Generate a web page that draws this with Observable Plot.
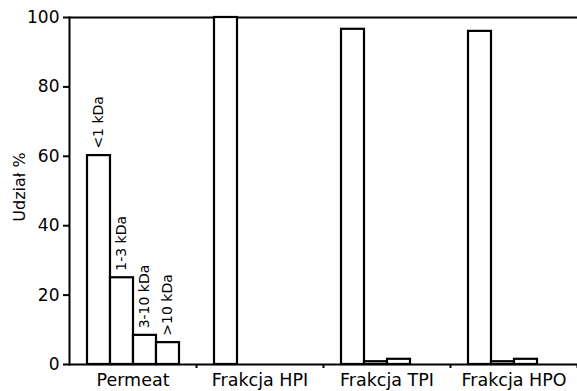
<!DOCTYPE html>
<html>
<head>
<meta charset="utf-8">
<script src="https://cdn.jsdelivr.net/npm/d3@7"></script>
<script src="https://cdn.jsdelivr.net/npm/@observablehq/plot@0.6"></script>
<style>
  html, body { margin: 0; padding: 0; background: #fff; }
  #chart svg { display: block; }
  #chart svg g[aria-label="y-axis tick label"] { font-size: 17px; }
</style>
</head>
<body>
<div id="chart"></div>
<script>
// Data
const groups = ["Permeat", "Frakcja HPI", "Frakcja TPI", "Frakcja HPO"];
const sizes = ["<1 kDa", "1-3 kDa", "3-10 kDa", ">10 kDa"];
const below1 = [60.2, 100, 96.6, 96.0];
const from1to3 = [25.0, 0, 0.8, 0.8];
const from3to10 = [8.4, 0, 1.5, 1.5];
const above10 = [6.3, 0, 0, 0];
const yTicks = [0, 20, 40, 60, 80, 100];
const labelledGroup = "Permeat";

const series = [below1, from1to3, from3to10, above10];
const data = [];
groups.forEach((g, gi) => {
  sizes.forEach((s, si) => {
    data.push({group: g, size: s, value: series[si][gi]});
  });
});
const labelData = data.filter(d => d.group === labelledGroup);

const W = 577, H = 391, ML = 69, MR = 0;
const facetHalf = (W - ML - MR) / groups.length / 2;
const font = "'DejaVu Sans', sans-serif";

const chart = Plot.plot({
  width: W,
  height: H,
  marginLeft: ML,
  marginRight: MR,
  marginTop: 17,
  marginBottom: 27,
  style: {fontFamily: font, fontSize: "17px", color: "#000", background: "#fff"},
  fx: {domain: groups, padding: 0, label: null},
  x: {domain: sizes, paddingInner: 0, paddingOuter: 0.65, axis: null},
  y: {domain: [0, 100], axis: null},
  marks: [
    Plot.ruleY([0, 100], {stroke: "#000", strokeWidth: 2}),
    Plot.frame({anchor: "left", facetAnchor: "left", stroke: "#000", strokeWidth: 2}),
    Plot.barY(data, {fx: "group", x: "size", y: "value", fill: "#fff", stroke: "#000", strokeWidth: 2.2}),
    Plot.text(labelData, {
      fx: "group", x: "size", y: "value", text: "size",
      rotate: -90, textAnchor: "start", lineAnchor: "middle",
      dy: -7, fontSize: 14, fill: "#000"
    }),
    Plot.axisY({
      ticks: yTicks, tickSize: 6, tickPadding: 4, fontSize: 17, strokeWidth: 2,
      label: null
    }),
    Plot.text(["Udział %"], {
      facetAnchor: "left", frameAnchor: "left", rotate: -90,
      text: d => d, dx: -50, dy: -4, fontSize: 16, lineAnchor: "middle", textAnchor: "middle", fill: "#000"
    }),
    Plot.axisFx({anchor: "bottom", tickSize: 0, tickPadding: 9, label: null, fontSize: 17.5}),
    Plot.axisFx({anchor: "bottom", tickSize: 4, tickFormat: () => "", label: null, dx: facetHalf, strokeWidth: 2})
  ]
});
document.getElementById("chart").appendChild(chart);
</script>
</body>
</html>
